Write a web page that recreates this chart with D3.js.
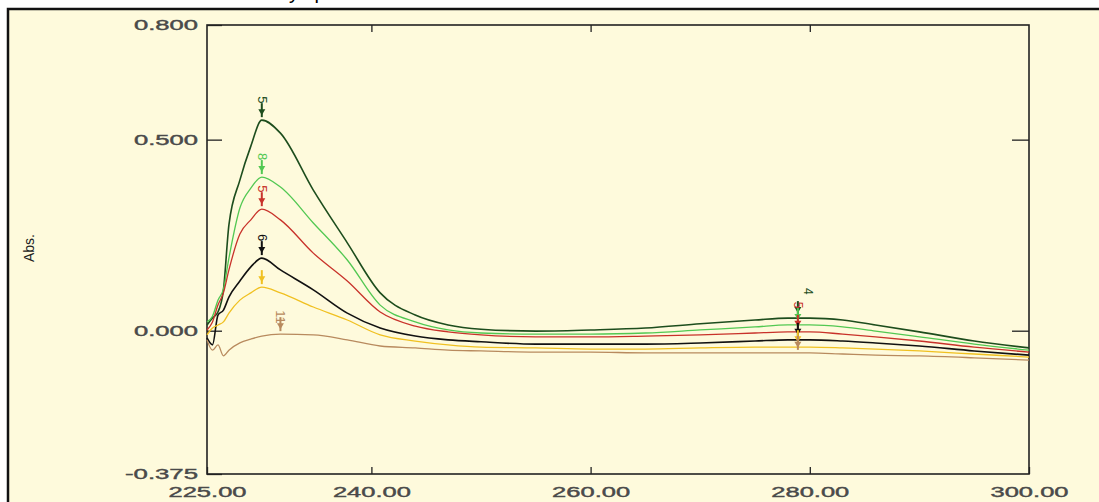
<!DOCTYPE html>
<html lang="en">
<head>
  <meta charset="UTF-8">
  <title>Overlay spectra</title>
  <style>
    body { margin: 0; background: #fff; }
    svg text { font-family: "Liberation Sans", Arial, sans-serif; }
  </style>
</head>
<body>
  <svg id="svg" width="1099" height="502"></svg>
  <script src="https://cdn.jsdelivr.net/npm/d3@7"></script>
  <script>
    // wavelengths (nm)
    const wavelengths = [225, 225.5, 226, 226.5, 227, 228, 229, 230, 231.7, 234.7, 237.8, 240.8, 244, 247, 250, 255, 260, 265, 270, 275, 278, 280, 283, 286, 290, 295, 300]

    // absorbance of each solution
    const darkGreen = [0.015, 0.033, 0.049, 0.107, 0.277, 0.394, 0.483, 0.551, 0.517, 0.368, 0.230, 0.099, 0.041, 0.015, 0.004, -0.001, 0.002, 0.007, 0.018, 0.028, 0.033, 0.033, 0.028, 0.015, -0.003, -0.027, -0.045]
    const lightGreen = [0.023, 0.038, 0.080, 0.109, 0.190, 0.321, 0.373, 0.402, 0.376, 0.282, 0.185, 0.067, 0.023, 0.002, -0.006, -0.009, -0.009, -0.006, 0.002, 0.010, 0.015, 0.015, 0.010, -0.001, -0.016, -0.035, -0.051]
    const red = [0.002, 0.023, 0.067, 0.099, 0.159, 0.253, 0.290, 0.318, 0.290, 0.203, 0.130, 0.049, 0.012, -0.003, -0.011, -0.016, -0.016, -0.014, -0.011, -0.006, -0.003, -0.003, -0.009, -0.016, -0.027, -0.043, -0.056]
    const black = [-0.019, -0.037, 0.041, 0.054, 0.088, 0.130, 0.167, 0.190, 0.159, 0.107, 0.046, 0.007, -0.014, -0.024, -0.029, -0.035, -0.035, -0.035, -0.032, -0.027, -0.024, -0.024, -0.027, -0.032, -0.040, -0.053, -0.064]
    const yellow = [-0.011, 0.007, 0.015, 0.023, 0.046, 0.080, 0.099, 0.114, 0.099, 0.062, 0.028, -0.011, -0.027, -0.037, -0.043, -0.045, -0.048, -0.048, -0.045, -0.043, -0.043, -0.043, -0.045, -0.048, -0.053, -0.061, -0.069]
    const brown = [-0.024, -0.051, -0.037, -0.066, -0.051, -0.032, -0.022, -0.014, -0.009, -0.011, -0.024, -0.040, -0.045, -0.051, -0.053, -0.056, -0.056, -0.058, -0.058, -0.058, -0.058, -0.058, -0.061, -0.064, -0.066, -0.071, -0.077]

    const seriesColors = ['#1d4d1d', '#52c852', '#c8322a', '#111111', '#f0c020', '#b88a5e']
    // peak pick labels (index of the picked point, label)
    const peakIndex = [7, 7, 7, 7, 7, 8]
    const peakLabels = ['5', '8', '5', '6', '', '11']
    const shoulderIndex = 20
    const shoulderLabels = ['4', '', '5', '', '', '']

    const xTicks = [225, 240, 260, 280, 300]
    const yTicks = [0.8, 0.5, 0, -0.375]

    const series = [darkGreen, lightGreen, red, black, yellow, brown]

    const frame = { left: 207, right: 1029, top: 25, bottom: 474 }

    const x = d3.scaleLinear().domain([225, 300]).range([frame.left, frame.right])
    const y = d3.scaleLinear().domain([-0.375, 0.8]).range([frame.bottom, frame.top])

    const svg = d3.select('#svg')

    // cut-off title
    svg.append('text')
      .attr('x', 230).attr('y', -1)
      .attr('font-size', 20)
      .attr('fill', '#000')
      .text('Overlay spectra of standard solutions at different concentrations')

    // cream panel
    svg.append('rect')
      .attr('x', 8).attr('y', 9)
      .attr('width', 1200).attr('height', 600)
      .attr('fill', '#fefadc')
      .attr('stroke', '#111')
      .attr('stroke-width', 2.5)

    const fmtY = d => d.toFixed(3)
    const fmtX = d => d.toFixed(2)

    // the instrument font is wide: stretch every label
    const labelWidth = s => {
      let w = 0
      for (const ch of s) w += ch === '.' ? 8 : ch === '-' ? 9 : 14
      return w
    }

    // left axis
    const leftAxis = d3.axisLeft(y)
      .tickValues(yTicks)
      .tickFormat(fmtY)
      .tickSizeInner(-15)
      .tickSizeOuter(0)
      .tickPadding(9)
    const gl = svg.append('g')
      .attr('transform', `translate(${frame.left}, 0)`)
      .call(leftAxis)

    // right axis, ticks only
    const rightAxis = d3.axisRight(y)
      .tickValues([0.5, 0])
      .tickFormat('')
      .tickSizeInner(-17)
      .tickSizeOuter(0)
    const gr = svg.append('g')
      .attr('transform', `translate(${frame.right}, 0)`)
      .call(rightAxis)

    // bottom axis
    const bottomAxis = d3.axisBottom(x)
      .tickValues(xTicks)
      .tickFormat(fmtX)
      .tickSizeInner(-7)
      .tickSizeOuter(0)
      .tickPadding(13)
    const gb = svg.append('g')
      .attr('transform', `translate(0, ${frame.bottom})`)
      .call(bottomAxis)

    // top axis, ticks only
    const topAxis = d3.axisTop(x)
      .tickValues([240, 260, 280])
      .tickFormat('')
      .tickSizeInner(-7)
      .tickSizeOuter(0)
    const gt = svg.append('g')
      .attr('transform', `translate(0, ${frame.top})`)
      .call(topAxis)

    for (const g of [gl, gr, gb, gt]) {
      g.select('.domain').remove()
      g.selectAll('line').attr('stroke', '#222').attr('stroke-width', 1.3)
      g.selectAll('text')
        .attr('fill', '#4a4a4a')
        .attr('stroke', '#4a4a4a')
        .attr('stroke-width', 0.4)
        .attr('font-size', 14)
        .attr('textLength', function () { return labelWidth(this.textContent) })
        .attr('lengthAdjust', 'spacingAndGlyphs')
    }

    // frame
    svg.append('rect')
      .attr('x', frame.left).attr('y', frame.top)
      .attr('width', frame.right - frame.left)
      .attr('height', frame.bottom - frame.top)
      .attr('fill', 'none')
      .attr('stroke', '#222')
      .attr('stroke-width', 1.6)

    // axis titles
    svg.append('text')
      .attr('transform', 'translate(34, 248) rotate(-90)')
      .attr('text-anchor', 'middle')
      .attr('font-size', 14)
      .attr('fill', '#222')
      .attr('font-family', '"Liberation Sans Narrow", "DejaVu Sans Condensed", sans-serif')
      .text('Abs.')

    svg.append('text')
      .attr('x', 615).attr('y', 511)
      .attr('text-anchor', 'middle')
      .attr('font-size', 13)
      .attr('fill', '#666')
      .text('nm')

    // spectra
    const line = d3.line()
      .x((d, i) => x(wavelengths[i]))
      .y(d => y(d))
      .curve(d3.curveMonotoneX)

    const plot = svg.append('g')
    plot.selectAll('path.spec')
      .data(series)
      .enter()
      .append('path')
      .attr('class', 'spec')
      .attr('d', d => line(d))
      .attr('fill', 'none')
      .attr('stroke', (d, i) => seriesColors[i])
      .attr('stroke-width', (d, i) => i === 0 || i === 3 ? 1.6 : 1.3)

    // peak pick markers
    function marker(g, cx, cy, color) {
      g.append('line')
        .attr('x1', cx).attr('x2', cx)
        .attr('y1', cy - 17).attr('y2', cy - 3)
        .attr('stroke', color).attr('stroke-width', 2)
      g.append('path')
        .attr('d', `M${cx - 3.5},${cy - 11} L${cx + 3.5},${cy - 11} L${cx},${cy - 5} Z`)
        .attr('fill', color)
    }

    const picks = svg.append('g')
    series.forEach((s, i) => {
      const c = seriesColors[i]
      const px = x(wavelengths[peakIndex[i]])
      const py = y(s[peakIndex[i]])
      marker(picks, px, py, c)
      if (peakLabels[i]) {
        picks.append('text')
          .attr('transform', `translate(${px - 4}, ${py - 24}) rotate(90)`)
          .attr('font-size', 13)
          .attr('fill', c)
          .text(peakLabels[i])
      }
      const sx = x(wavelengths[shoulderIndex]) + 10
      const sy = y(s[shoulderIndex])
      marker(picks, sx, sy, c)
      if (shoulderLabels[i]) {
        picks.append('text')
          .attr('transform', `translate(${sx + (i === 0 ? 6 : -4)}, ${sy - 30}) rotate(90)`)
          .attr('font-size', 12)
          .attr('fill', c)
          .text(shoulderLabels[i])
      }
    })
  </script>
</body>
</html>
